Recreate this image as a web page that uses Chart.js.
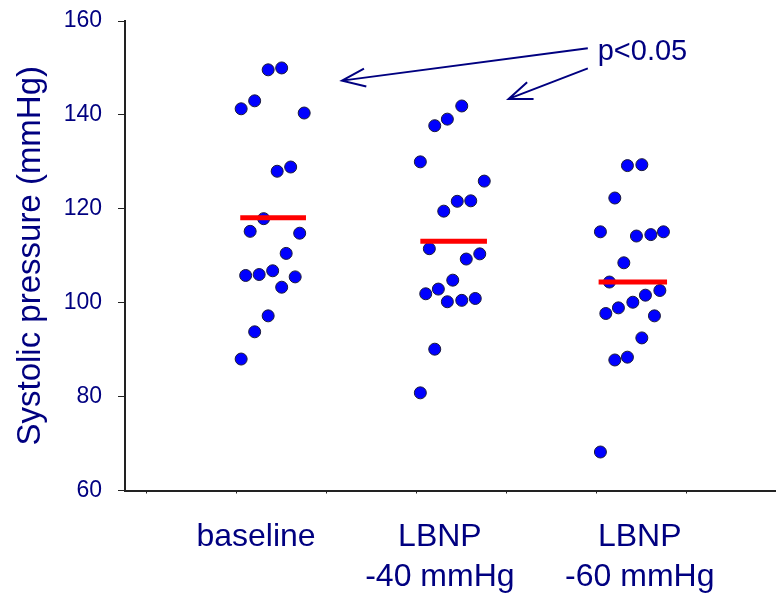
<!DOCTYPE html>
<html>
<head>
<meta charset="utf-8">
<script src="https://cdn.jsdelivr.net/npm/chart.js@4.4.0/dist/chart.umd.min.js"></script>
<style>
  body { margin: 0; background: #fff; }
  #wrap { width: 776px; height: 596px; }
</style>
</head>
<body>
<div id="wrap"><canvas id="bp-chart" width="776" height="596"></canvas></div>
<script>
// group labels on the x axis and where they sit (x units)
const groupLabels = ['baseline', ['LBNP', '-40 mmHg'], ['LBNP', '-60 mmHg']];
const labelPos = [2.215, 4.257, 6.477];
const minorTicks = [1, 2, 3, 4, 5, 6, 7];
const yTicks = [60, 80, 100, 120, 140, 160];

// individual subjects (x = jitter position, y = systolic pressure)
const baselineX = [2.35, 2.50, 2.05, 2.20, 2.75, 2.45, 2.60, 2.30, 2.15, 2.70, 2.55, 2.10, 2.25, 2.40, 2.65, 2.50, 2.35, 2.20, 2.05];
const baselineY = [149.6, 150.0, 141.3, 143.0, 140.4, 128.0, 128.9, 117.9, 115.2, 114.8, 110.5, 105.8, 106.0, 106.8, 105.5, 103.3, 97.2, 93.8, 88.0];

const lbnp40X = [4.50, 4.34, 4.20, 4.04, 4.75, 4.45, 4.60, 4.30, 4.14, 4.55, 4.70, 4.40, 4.24, 4.10, 4.34, 4.50, 4.65, 4.20, 4.04];
const lbnp40Y = [141.9, 139.1, 137.7, 130.0, 125.9, 121.6, 121.7, 119.5, 111.5, 109.3, 110.4, 104.8, 102.9, 101.9, 100.2, 100.5, 100.9, 90.1, 80.8];

const lbnp60X = [6.34, 6.50, 6.20, 6.04, 6.44, 6.60, 6.74, 6.30, 6.14, 6.70, 6.54, 6.40, 6.24, 6.10, 6.64, 6.50, 6.34, 6.20, 6.04];
const lbnp60Y = [129.2, 129.4, 122.3, 115.1, 114.2, 114.5, 115.1, 108.5, 104.4, 102.6, 101.6, 100.1, 98.9, 97.7, 97.2, 92.5, 88.4, 87.8, 68.2];

// group means (red bars)
const means = [118.1, 113.1, 104.4];
const meanSpan = [[2.04, 2.77], [4.04, 4.78], [6.02, 6.78]];

// significance note
const noteText = 'p<0.05';
const notePos = [6.01, 153.4];
const arrows = [
    { from: [5.90, 154.2], to: [3.17, 147.3] },
    { from: [5.90, 149.9], to: [5.02, 143.4] }
];

const NAVY = '#000080';
const FONT = "'Liberation Sans', Arial, sans-serif";

function toPoints(xs, ys) {
    return xs.map((x, i) => ({ x: x, y: ys[i] }));
}

let pointSets = [[baselineX, baselineY], [lbnp40X, lbnp40Y], [lbnp60X, lbnp60Y]];
let datasets = [];
pointSets.forEach((s) => {
    datasets.push({
        type: 'scatter',
        data: toPoints(s[0], s[1]),
        backgroundColor: '#0000ff',
        borderColor: '#1a1a3a',
        borderWidth: 1,
        pointRadius: 6,
        pointHoverRadius: 6,
        order: 1,
    });
});
means.forEach((m, i) => {
    datasets.push({
        type: 'line',
        data: [{ x: meanSpan[i][0], y: m }, { x: meanSpan[i][1], y: m }],
        borderColor: '#ff0000',
        borderWidth: 5,
        pointRadius: 0,
        fill: false,
        order: 0,
    });
});

// arrows + p value text, placed with the chart scales
const notePlugin = {
    id: 'note',
    afterDatasetsDraw(chart) {
        let ctx = chart.ctx;
        let xs = chart.scales.x, ys = chart.scales.y;
        ctx.save();
        ctx.strokeStyle = NAVY;
        ctx.lineWidth = 2;
        arrows.forEach((a) => {
            let x1 = xs.getPixelForValue(a.from[0]), y1 = ys.getPixelForValue(a.from[1]);
            let x2 = xs.getPixelForValue(a.to[0]), y2 = ys.getPixelForValue(a.to[1]);
            ctx.beginPath();
            ctx.moveTo(x1, y1);
            ctx.lineTo(x2, y2);
            let ang = Math.atan2(y1 - y2, x1 - x2);
            let len = 25, spread = 21 * Math.PI / 180;
            ctx.moveTo(x2 + len * Math.cos(ang - spread), y2 + len * Math.sin(ang - spread));
            ctx.lineTo(x2, y2);
            ctx.lineTo(x2 + len * Math.cos(ang + spread), y2 + len * Math.sin(ang + spread));
            ctx.stroke();
        });
        ctx.fillStyle = NAVY;
        ctx.font = '29px ' + FONT;
        ctx.textAlign = 'left';
        ctx.textBaseline = 'middle';
        ctx.fillText(noteText, xs.getPixelForValue(notePos[0]), ys.getPixelForValue(notePos[1]));
        ctx.restore();
    }
};

var chart = new Chart(document.getElementById('bp-chart'), {
    type: 'scatter',
    data: { datasets: datasets },
    plugins: [notePlugin],
    options: {
        responsive: false,
        animation: false,
        layout: { autoPadding: false, padding: { top: 21, right: 0, bottom: 0, left: 0 } },
        plugins: {
            legend: { display: false },
            tooltip: { enabled: false },
        },
        scales: {
            x: {
                type: 'linear',
                min: 0.76,
                max: 7.99,
                afterBuildTicks: (scale) => {
                    let vals = minorTicks.concat(labelPos).sort((a, b) => a - b);
                    scale.ticks = vals.map((v) => ({ value: v }));
                },
                afterFit: (scale) => {
                    scale.height = 105.5;
                    scale.paddingLeft = 0;
                    scale.paddingRight = 0;
                },
                grid: {
                    drawOnChartArea: false,
                    tickLength: 3,
                    tickColor: (c) => (c.tick && labelPos.includes(c.tick.value)) ? 'rgba(0,0,0,0)' : '#222',
                },
                border: { color: '#222', width: 2 },
                ticks: {
                    autoSkip: false,
                    maxRotation: 0,
                    padding: 24,
                    color: NAVY,
                    font: { family: FONT, size: 32, lineHeight: 1.25 },
                    callback: (v) => {
                        let i = labelPos.indexOf(v);
                        return i >= 0 ? groupLabels[i] : '';
                    },
                },
            },
            y: {
                min: 60,
                max: 160,
                afterBuildTicks: (scale) => {
                    scale.ticks = yTicks.map((v) => ({ value: v }));
                },
                afterFit: (scale) => {
                    scale.width = 125;
                    scale.paddingTop = 0;
                    scale.paddingBottom = 0;
                },
                grid: { drawOnChartArea: false, tickLength: 7, tickColor: '#222' },
                border: { color: '#222', width: 2 },
                ticks: {
                    padding: 16,
                    color: NAVY,
                    font: { family: FONT, size: 23 },
                },
                title: {
                    display: true,
                    text: 'Systolic pressure (mmHg)',
                    color: NAVY,
                    font: { family: FONT, size: 33, lineHeight: 1.2 },
                    padding: { top: 11, bottom: 0 },
                },
            },
        },
    },
});
</script>
</body>
</html>
